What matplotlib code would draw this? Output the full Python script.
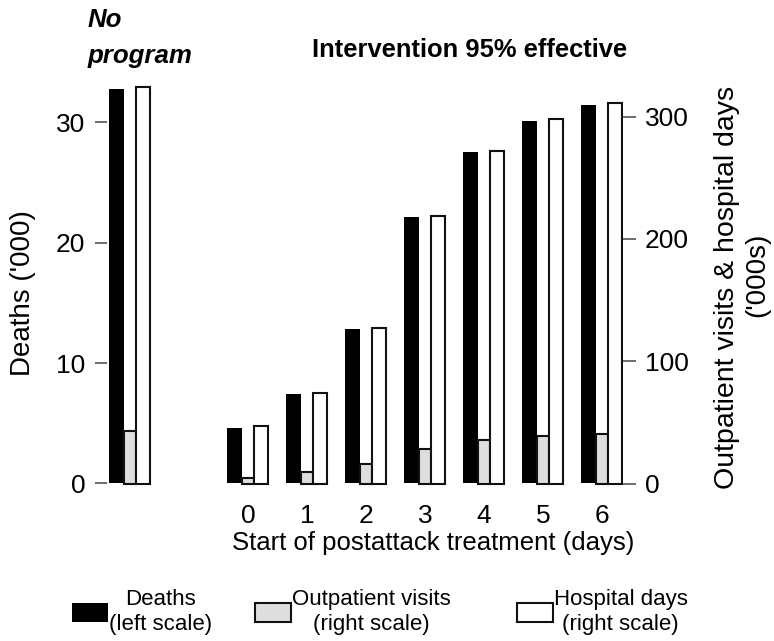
import numpy as np
import matplotlib
matplotlib.use("Agg")
import matplotlib.pyplot as plt
from matplotlib.patches import Patch

plt.rcParams['font.family'] = ['Liberation Sans', 'DejaVu Sans']

# ---- data ----
days = [0, 1, 2, 3, 4, 5, 6]
tick_labels = ["0", "1", "2", "3", "4", "5", "6"]
# first value: "No program"; remaining: intervention starting on day 0..6
deaths = [32.8, 4.6, 7.4, 12.8, 22.1, 27.5, 30.1, 31.4]          # '000, left scale
outpatient = [42.9, 4.7, 9.0, 16.2, 28.2, 35.6, 38.8, 40.7]      # '000s, right scale
hospital = [324, 47, 74, 127, 219, 272, 298, 311]                # '000s, right scale
legend_labels = ["Deaths\n(left scale)", "Outpatient visits\n(right scale)",
                 "Hospital days\n(right scale)"]

# ---- layout ----
W, H = 774, 641
fig = plt.figure(figsize=(W / 100, H / 100), dpi=100)
ax_l, ax_r, ax_t, ax_b = 107, 623, 60, 490
ax = fig.add_axes([ax_l / W, 1 - ax_b / H, (ax_r - ax_l) / W, (ax_b - ax_t) / H])
ax2 = ax.twinx()

x = np.array([-2] + days, dtype=float)
edge = '#111111'
gray = '#dedede'
ax.bar(x - 0.228, deaths, width=0.256, color='black', linewidth=0, zorder=2)
ax2.bar(x, outpatient, width=0.2, color=gray, edgecolor=edge, linewidth=1.5, zorder=2)
ax2.bar(x + 0.2225, hospital, width=0.245, color='white', edgecolor=edge, linewidth=1.5, zorder=3)

ax.set_xlim(-2.39, 6.356)
ax.set_ylim(-0.54, 35.17)
ax2.set_ylim(-5.31, 346.3)

for a in (ax, ax2):
    for s in a.spines.values():
        s.set_visible(False)
    a.patch.set_visible(False)

ax.set_yticks([0, 10, 20, 30])
ax2.set_yticks([0, 100, 200, 300])
ax.set_xticks(days)
ax.set_xticklabels(tick_labels)
ax.tick_params(axis='y', direction='out', length=8.6, width=1.1, color='#444444',
               pad=7, labelsize=19)
ax2.tick_params(axis='y', direction='out', length=9, width=1.1, color='#444444',
                pad=6.5, labelsize=19)
ax.tick_params(axis='x', length=0, pad=10, labelsize=19)

ax.set_xlabel("Start of postattack treatment (days)", fontsize=18.5)
ax.xaxis.set_label_coords((433 - ax_l) / (ax_r - ax_l), (ax_b - 543) / (ax_b - ax_t))
ax.xaxis.label.set_va('center')

ax.set_ylabel("Deaths ('000)", fontsize=20)
ax.yaxis.set_label_coords((23 - ax_l) / (ax_r - ax_l), (ax_b - 293.5) / (ax_b - ax_t))
ax.yaxis.label.set_va('center')

fig.text(727 / W, 1 - 287 / H, "Outpatient visits & hospital days", rotation=90,
         ha='center', va='center', fontsize=20.5)
fig.text(757 / W, 1 - 275 / H, "('000s)", rotation=90,
         ha='center', va='center', fontsize=20)

fig.text(470 / W, 1 - 57 / H, "Intervention 95% effective", ha='center', va='baseline',
         fontsize=18.4, fontweight='bold')
fig.text(88 / W, 1 - 27 / H, "No", ha='left', va='baseline', fontsize=18.6,
         fontweight='bold', fontstyle='italic')
fig.text(88 / W, 1 - 63 / H, "program", ha='left', va='baseline', fontsize=18.6,
         fontweight='bold', fontstyle='italic')

handles = [
    Patch(facecolor='black', edgecolor='black', linewidth=0),
    Patch(facecolor=gray, edgecolor=edge, linewidth=1.5),
    Patch(facecolor='white', edgecolor=edge, linewidth=1.5),
]
leg_x = [72, 255, 517]
for h, lab, lx in zip(handles, legend_labels, leg_x):
    leg = fig.legend([h], [lab], loc='center left', bbox_to_anchor=(lx / W, 1 - 612 / H),
                     frameon=False, fontsize=16, handlelength=1.6, handleheight=0.95,
                     handletextpad=0.05, borderpad=0, borderaxespad=0)
    for t in leg.get_texts():
        t.set_multialignment('center')

fig.savefig("out.png", dpi=100)
